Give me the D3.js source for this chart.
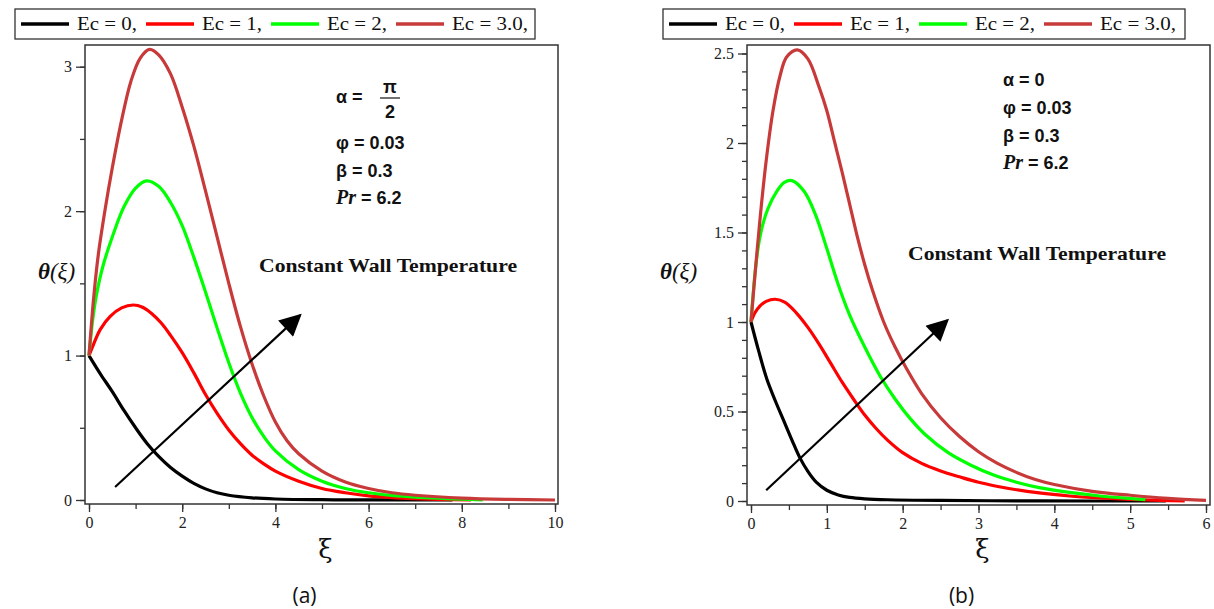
<!DOCTYPE html>
<html>
<head>
  <meta charset="utf-8">
  <title>Temperature profiles</title>
  <script src="https://cdn.jsdelivr.net/npm/d3@7"></script>
  <style>
    body { margin: 0; background: #fff; }
    svg { display: block; }
    .legend-text { font-family: "Liberation Serif", serif; font-size: 18px; fill: #111; }
    .param { font-family: "Liberation Sans", Arial, sans-serif; font-weight: bold; font-size: 18px; fill: #111; }
    .note { font-family: "Liberation Serif", serif; font-weight: bold; font-size: 19px; fill: #111; }
  </style>
</head>
<body>
<svg id="chart" width="1214" height="609"></svg>
<script>
  // ---- data ----
  var seriesNames = ['Ec = 0,', 'Ec = 1,', 'Ec = 2,', 'Ec = 3.0,'];
  var seriesColors = ['#000000', '#ff0000', '#00ff00', '#c83a3a'];

  // panel (a), alpha = pi/2
  var aBlackX = [0, 0.25, 0.5, 0.75, 1.0, 1.25, 1.5, 1.75, 2.0, 2.25, 2.5, 2.75, 3.0, 3.5, 4, 5, 6, 7, 7.8];
  var aBlackY = [1, 0.87, 0.75, 0.62, 0.5, 0.39, 0.3, 0.225, 0.165, 0.115, 0.077, 0.05, 0.033, 0.015, 0.007, 0.002, 0.001, 0, 0];
  var aRedX = [0, 0.1, 0.24, 0.45, 0.7, 0.95, 1.15, 1.35, 1.55, 1.75, 2.0, 2.25, 2.5, 2.75, 3.0, 3.25, 3.5, 3.75, 4.0, 4.5, 5.0, 5.5, 6.0, 6.5, 7, 7.5, 8.2];
  var aRedY = [1, 1.08, 1.18, 1.27, 1.33, 1.35, 1.335, 1.29, 1.225, 1.14, 1.02, 0.88, 0.73, 0.6, 0.485, 0.39, 0.31, 0.25, 0.2, 0.13, 0.08, 0.05, 0.028, 0.016, 0.009, 0.004, 0];
  var aGreenX = [0, 0.08, 0.16, 0.3, 0.52, 0.75, 1.0, 1.24, 1.5, 1.75, 2.0, 2.25, 2.5, 2.75, 3.0, 3.25, 3.5, 3.75, 4.0, 4.5, 5.0, 5.5, 6.0, 6.5, 7, 7.5, 8, 8.45];
  var aGreenY = [1, 1.25, 1.42, 1.62, 1.84, 2.03, 2.16, 2.21, 2.17, 2.06, 1.9, 1.68, 1.44, 1.19, 0.95, 0.74, 0.57, 0.44, 0.34, 0.21, 0.13, 0.08, 0.05, 0.032, 0.02, 0.012, 0.006, 0];
  var aBrownX = [0, 0.1, 0.2, 0.35, 0.5, 0.7, 0.9, 1.1, 1.3, 1.5, 1.75, 2.0, 2.25, 2.5, 2.75, 3.0, 3.25, 3.5, 3.75, 4.0, 4.25, 4.5, 5.0, 5.5, 6.0, 6.5, 7, 8, 9, 10];
  var aBrownY = [1, 1.4, 1.7, 2.02, 2.3, 2.63, 2.9, 3.06, 3.12, 3.08, 2.95, 2.72, 2.45, 2.14, 1.82, 1.5, 1.2, 0.94, 0.72, 0.54, 0.41, 0.32, 0.2, 0.125, 0.08, 0.05, 0.033, 0.013, 0.004, 0];

  // panel (b), alpha = 0
  var bBlackX = [0, 0.1, 0.21, 0.32, 0.43, 0.54, 0.64, 0.75, 0.86, 1.0, 1.15, 1.3, 1.5, 1.8, 2.5, 3.5, 4.5, 5.47];
  var bBlackY = [1, 0.84, 0.68, 0.56, 0.45, 0.34, 0.245, 0.165, 0.105, 0.06, 0.034, 0.02, 0.012, 0.007, 0.003, 0.001, 0, 0];
  var bRedX = [0, 0.05, 0.12, 0.2, 0.32, 0.45, 0.6, 0.75, 0.9, 1.05, 1.2, 1.35, 1.5, 1.65, 1.8, 2.0, 2.25, 2.5, 2.75, 3.0, 3.4, 3.8, 4.2, 4.6, 5.0, 5.4, 5.72];
  var bRedY = [1, 1.05, 1.09, 1.115, 1.127, 1.11, 1.05, 0.97, 0.875, 0.77, 0.665, 0.57, 0.48, 0.405, 0.34, 0.27, 0.21, 0.168, 0.135, 0.105, 0.07, 0.045, 0.028, 0.017, 0.009, 0.004, 0];
  var bGreenX = [0, 0.06, 0.12, 0.22, 0.34, 0.44, 0.54, 0.7, 0.85, 1.0, 1.15, 1.3, 1.5, 1.7, 1.9, 2.1, 2.3, 2.6, 2.9, 3.2, 3.5, 3.8, 4.2, 4.6, 5.0, 5.2];
  var bGreenY = [1, 1.3, 1.48, 1.63, 1.73, 1.78, 1.79, 1.73, 1.6, 1.41, 1.21, 1.04, 0.86, 0.7, 0.57, 0.46, 0.37, 0.27, 0.2, 0.145, 0.105, 0.075, 0.048, 0.028, 0.014, 0.008];
  var bBrownX = [0, 0.06, 0.12, 0.2, 0.29, 0.38, 0.47, 0.61, 0.75, 0.9, 1.0, 1.1, 1.2, 1.3, 1.4, 1.5, 1.6, 1.75, 1.9, 2.05, 2.25, 2.5, 2.75, 3.0, 3.25, 3.5, 3.75, 4.0, 4.5, 5.0, 5.5, 6.0];
  var bBrownY = [1, 1.3, 1.58, 1.9, 2.18, 2.37, 2.48, 2.52, 2.47, 2.31, 2.18, 2.01, 1.84, 1.66, 1.48, 1.32, 1.18, 1.0, 0.86, 0.74, 0.6, 0.465, 0.36, 0.275, 0.21, 0.16, 0.12, 0.092, 0.054, 0.032, 0.015, 0.004];

  var aXTicks = [0, 2, 4, 6, 8, 10];
  var aYTicks = [0, 1, 2, 3];
  var bXTicks = [0, 1, 2, 3, 4, 5, 6];
  var bYTicks = [0, 0.5, 1, 1.5, 2, 2.5];

  var aArrow = [[0.56, 0.09], [4.53, 1.28]];
  var bArrow = [[0.2, 0.06], [2.59, 1.01]];

  var svg = d3.select('#chart');
  svg.append('defs').append('marker')
      .attr('id', 'head')
      .attr('viewBox', '0 0 10 10')
      .attr('refX', 9).attr('refY', 5)
      .attr('markerWidth', 24).attr('markerHeight', 22)
      .attr('markerUnits', 'userSpaceOnUse')
      .attr('orient', 'auto')
    .append('path')
      .attr('d', 'M0,0 L10,5 L0,10 Z')
      .attr('fill', '#000');

  function zip(xs, ys) { return xs.map(function(x, i) { return [x, ys[i]]; }); }

  function styleAxis(s) {
    s.select('.domain').remove();
    s.attr('font-family', null).attr('font-size', null);
    s.selectAll('line').attr('stroke', '#333').attr('stroke-width', 1.3);
    s.selectAll('text')
      .style('font-family', '"Liberation Serif", serif')
      .style('font-size', '16px')
      .style('fill', '#222');
  }

  function drawPanel(p) {
    var g = svg.append('g');
    var x = d3.scaleLinear().domain(p.xDomain).range([p.x0, p.x1]);
    var y = d3.scaleLinear().domain(p.yDomain).range([p.y0, p.y1]);

    // legend
    var lg = g.append('g');
    lg.append('rect')
      .attr('x', p.legend.x).attr('y', 9)
      .attr('width', p.legend.w).attr('height', 30)
      .attr('fill', '#fff').attr('stroke', '#222').attr('stroke-width', 1.2);
    seriesNames.forEach(function(name, i) {
      var lx = p.legend.x + 6 + i * p.legend.step;
      lg.append('line')
        .attr('x1', lx).attr('x2', lx + 48)
        .attr('y1', 24).attr('y2', 24)
        .attr('stroke', seriesColors[i]).attr('stroke-width', 3.5);
      lg.append('text').attr('class', 'legend-text')
        .attr('x', lx + 56).attr('y', 30)
        .attr('textLength', i === 3 ? 76 : 60)
        .attr('lengthAdjust', 'spacingAndGlyphs')
        .text(name);
    });

    // box
    g.append('rect')
      .attr('x', p.box[0]).attr('y', p.box[1])
      .attr('width', p.box[2] - p.box[0]).attr('height', p.box[3] - p.box[1])
      .attr('fill', 'none').attr('stroke', '#333').attr('stroke-width', 1.5);

    // y ticks on box left edge
    g.append('g').attr('transform', 'translate(' + p.box[0] + ',0)')
      .call(d3.axisLeft(y).tickValues(p.yMinor).tickSize(5).tickFormat(''))
      .call(styleAxis);
    g.append('g').attr('transform', 'translate(' + p.box[0] + ',0)')
      .call(d3.axisLeft(y).tickValues(p.yTicks).tickSize(9).tickPadding(4)
        .tickFormat(function(d) { return String(d); }))
      .call(styleAxis);

    // x ticks on box bottom edge
    g.append('g').attr('transform', 'translate(0,' + p.box[3] + ')')
      .call(d3.axisBottom(x).tickValues(p.xMinor).tickSize(5).tickFormat(''))
      .call(styleAxis);
    g.append('g').attr('transform', 'translate(0,' + p.box[3] + ')')
      .call(d3.axisBottom(x).tickValues(p.xTicks).tickSize(8).tickPadding(5)
        .tickFormat(function(d) { return String(d); }))
      .call(styleAxis);

    // curves
    var line = d3.line()
      .x(function(d) { return x(d[0]); })
      .y(function(d) { return y(Math.max(0, d[1])); })
      .curve(d3.curveCatmullRom.alpha(0.5));
    p.series.forEach(function(s, i) {
      g.append('path')
        .datum(zip(s[0], s[1]))
        .attr('d', line)
        .attr('fill', 'none')
        .attr('stroke', seriesColors[i])
        .attr('stroke-width', 3.2)
        .attr('stroke-linejoin', 'round');
    });

    // arrow
    g.append('line')
      .attr('x1', x(p.arrow[0][0])).attr('y1', y(p.arrow[0][1]))
      .attr('x2', x(p.arrow[1][0])).attr('y2', y(p.arrow[1][1]))
      .attr('stroke', '#000').attr('stroke-width', 2.2)
      .attr('marker-end', 'url(#head)');

    // axis titles
    var yl = g.append('text')
      .attr('x', p.yLabelX).attr('y', 279)
      .attr('font-family', '"Liberation Serif", serif')
      .attr('font-style', 'italic').attr('font-size', 23).attr('fill', '#111');
    yl.append('tspan').attr('font-weight', 'bold').text('\u03b8');
    yl.append('tspan').text('(\u03be)');

    g.append('text')
      .attr('x', (p.box[0] + p.box[2]) / 2 + 4).attr('y', 558)
      .attr('text-anchor', 'middle')
      .attr('font-family', '"DejaVu Serif", serif')
      .attr('font-size', 26).attr('fill', '#111')
      .text('\u03be');

    g.append('text')
      .attr('x', (p.box[0] + p.box[2]) / 2 - 17).attr('y', 603)
      .attr('text-anchor', 'middle')
      .attr('font-family', '"Open Sans", "Liberation Sans", sans-serif')
      .attr('font-size', 21).attr('fill', '#111')
      .text(p.tag);

    // parameters
    var px = p.params.x, py = p.params.y;
    if (p.fraction) {
      g.append('text').attr('class', 'param').attr('x', px).attr('y', py).text('\u03b1 =');
      g.append('text').attr('class', 'param').attr('x', px + 54).attr('y', py - 10)
        .attr('text-anchor', 'middle').text('\u03c0');
      g.append('line').attr('x1', px + 44).attr('x2', px + 64)
        .attr('y1', py - 5).attr('y2', py - 5).attr('stroke', '#111').attr('stroke-width', 1.2);
      g.append('text').attr('class', 'param').attr('x', px + 54).attr('y', py + 15)
        .attr('text-anchor', 'middle').text('2');
      py += 46;
    } else {
      g.append('text').attr('class', 'param').attr('x', px).attr('y', py).text('\u03b1 = 0');
      py += 28;
    }
    g.append('text').attr('class', 'param').attr('x', px).attr('y', py).text('\u03c6 = 0.03');
    g.append('text').attr('class', 'param').attr('x', px).attr('y', py + 28).text('\u03b2 = 0.3');
    var pr = g.append('text').attr('class', 'param').attr('x', px).attr('y', py + 55);
    pr.append('tspan').attr('font-family', '"Liberation Serif", serif').attr('font-style', 'italic')
      .attr('font-size', 20).text('Pr');
    pr.append('tspan').text(' = 6.2');

    g.append('text').attr('class', 'note')
      .attr('x', p.note.x).attr('y', p.note.y)
      .attr('textLength', 258).attr('lengthAdjust', 'spacingAndGlyphs')
      .text('Constant Wall Temperature');
  }

  drawPanel({
    xDomain: [0, 10], yDomain: [0, 3],
    x0: 89, x1: 555, y0: 500, y1: 66.7,
    box: [85, 45, 558, 504],
    xTicks: aXTicks, xMinor: d3.range(0, 11, 1),
    yTicks: aYTicks, yMinor: d3.range(0, 3.01, 0.5),
    series: [[aBlackX, aBlackY], [aRedX, aRedY], [aGreenX, aGreenY], [aBrownX, aBrownY]],
    arrow: aArrow,
    legend: { x: 15, w: 520, step: 125 },
    yLabelX: 38, tag: '(a)',
    fraction: true,
    params: { x: 336, y: 103 },
    note: { x: 259, y: 272 }
  });

  drawPanel({
    xDomain: [0, 6], yDomain: [0, 2.5],
    x0: 751, x1: 1206, y0: 501, y1: 53.5,
    box: [747, 45, 1210, 505],
    xTicks: bXTicks, xMinor: d3.range(0, 6.01, 0.5),
    yTicks: bYTicks, yMinor: d3.range(0, 2.51, 0.1),
    series: [[bBlackX, bBlackY], [bRedX, bRedY], [bGreenX, bGreenY], [bBrownX, bBrownY]],
    arrow: bArrow,
    legend: { x: 663, w: 522, step: 125 },
    yLabelX: 660, tag: '(b)',
    fraction: false,
    params: { x: 1003, y: 86 },
    note: { x: 908, y: 260 }
  });
</script>
</body>
</html>
